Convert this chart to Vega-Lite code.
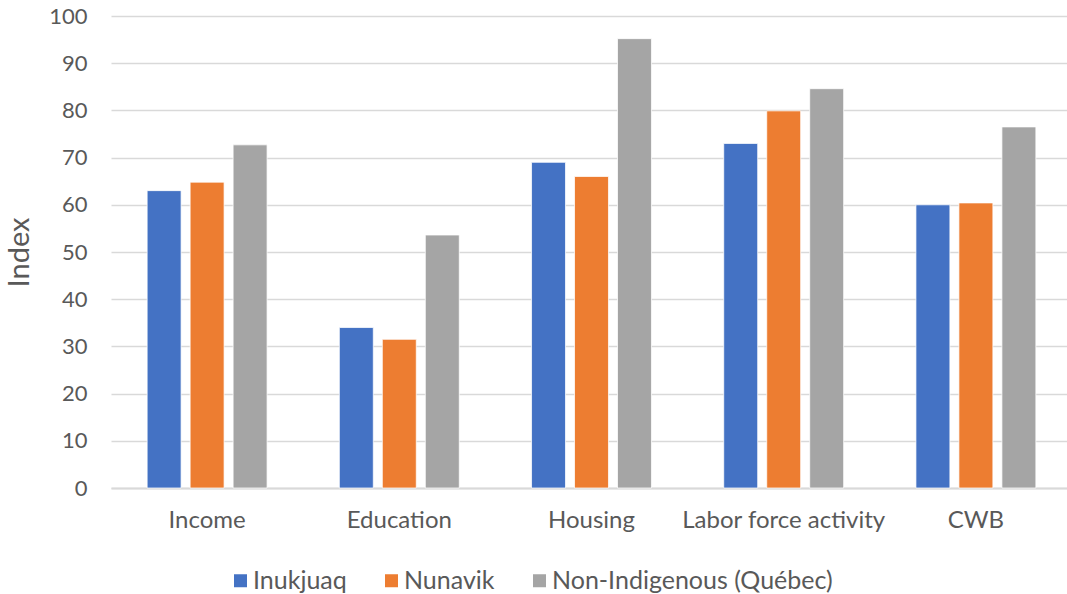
{
  "$schema": "https://vega.github.io/schema/vega-lite/v6.json",
  "width": 961,
  "height": 472,
  "autosize": {"type": "none"},
  "padding": {"left": 111, "top": 16, "right": 0, "bottom": 106},
  "background": "white",
  "data": {
    "values": [
      {"category": "Income", "series": "Inukjuaq", "value": 63.0},
      {"category": "Income", "series": "Nunavik", "value": 64.8},
      {"category": "Income", "series": "Non-Indigenous (Québec)", "value": 72.7},
      {"category": "Education", "series": "Inukjuaq", "value": 34.0},
      {"category": "Education", "series": "Nunavik", "value": 31.5},
      {"category": "Education", "series": "Non-Indigenous (Québec)", "value": 53.6},
      {"category": "Housing", "series": "Inukjuaq", "value": 69.0},
      {"category": "Housing", "series": "Nunavik", "value": 66.0},
      {"category": "Housing", "series": "Non-Indigenous (Québec)", "value": 95.2},
      {"category": "Labor force activity", "series": "Inukjuaq", "value": 73.0},
      {"category": "Labor force activity", "series": "Nunavik", "value": 79.9},
      {"category": "Labor force activity", "series": "Non-Indigenous (Québec)", "value": 84.6},
      {"category": "CWB", "series": "Inukjuaq", "value": 60.0},
      {"category": "CWB", "series": "Nunavik", "value": 60.4},
      {"category": "CWB", "series": "Non-Indigenous (Québec)", "value": 76.5}
    ]
  },
  "config": {
    "font": "Lato",
    "view": {"stroke": null},
    "axis": {"labelFont": "Lato", "titleFont": "Lato", "labelColor": "#595959", "titleColor": "#595959"}
  },
  "mark": {"type": "bar", "stroke": "white", "strokeWidth": 0.75},
  "encoding": {
    "x": {
      "field": "category",
      "type": "nominal",
      "sort": ["Income", "Education", "Housing", "Labor force activity", "CWB"],
      "scale": {"paddingInner": 0.376, "paddingOuter": 0.188},
      "axis": {
        "title": null,
        "labelAngle": 0,
        "labelFontSize": 24,
        "labelPadding": 20,
        "labelLimit": 400,
        "labelOverlap": false,
        "ticks": false,
        "domainColor": "#D9D9D9",
        "domainWidth": 2
      }
    },
    "xOffset": {
      "field": "series",
      "type": "nominal",
      "sort": ["Inukjuaq", "Nunavik", "Non-Indigenous (Québec)"],
      "scale": {"paddingInner": 0.21, "paddingOuter": 0}
    },
    "y": {
      "field": "value",
      "type": "quantitative",
      "scale": {"domain": [0, 100], "nice": false},
      "axis": {
        "title": "Index",
        "titleFontSize": 29,
        "titleFontWeight": "normal",
        "titlePadding": 14,
        "labelFontSize": 22,
        "labelPadding": 24,
        "values": [0, 10, 20, 30, 40, 50, 60, 70, 80, 90, 100],
        "ticks": false,
        "domain": false,
        "gridColor": "#D9D9D9",
        "gridWidth": 1.5
      }
    },
    "color": {
      "field": "series",
      "type": "nominal",
      "sort": ["Inukjuaq", "Nunavik", "Non-Indigenous (Québec)"],
      "scale": {
        "domain": ["Inukjuaq", "Nunavik", "Non-Indigenous (Québec)"],
        "range": ["#4472C4", "#ED7D31", "#A5A5A5"]
      },
      "legend": {
        "title": null,
        "orient": "none",
        "direction": "horizontal",
        "legendX": 117,
        "legendY": 552,
        "symbolType": "square",
        "symbolSize": 169,
        "symbolStrokeWidth": 0,
        "labelFontSize": 25,
        "labelColor": "#595959",
        "labelOffset": 0,
        "columnPadding": 32,
        "labelLimit": 400
      }
    }
  }
}
